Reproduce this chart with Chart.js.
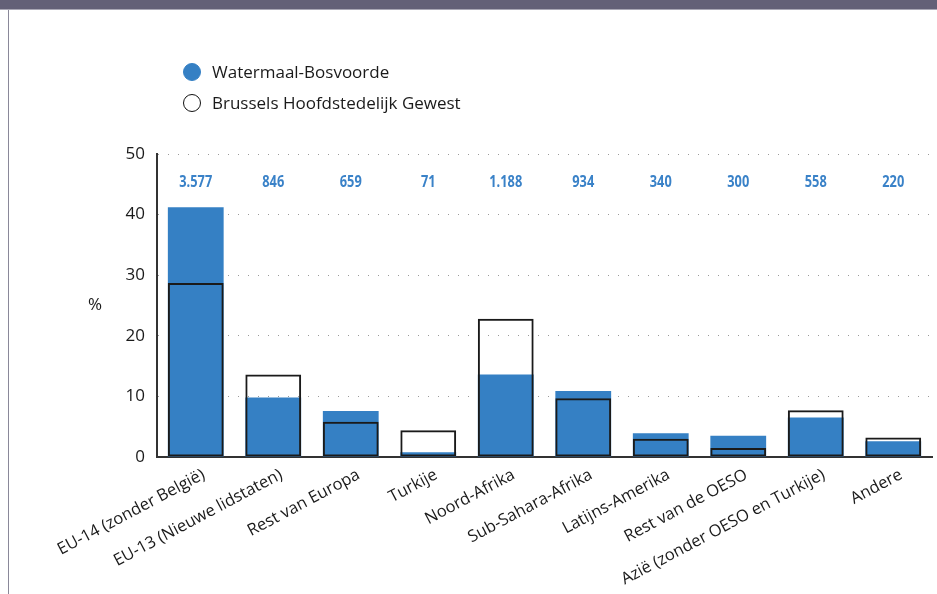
<!DOCTYPE html>
<html>
<head>
<meta charset="utf-8">
<script src="https://cdn.jsdelivr.net/npm/chart.js@4"></script>
<style>
  html, body { margin: 0; padding: 0; background: #fff; }
  #wrap { position: relative; width: 937px; height: 594px; overflow: hidden; font-family: "Open Sans", sans-serif; }
  #header { position: absolute; left: 0; top: 0; width: 937px; height: 9px; background: #636077; border-bottom: 1px solid #a9a7b5; }
  #leftline { position: absolute; left: 8px; top: 10px; width: 1px; height: 584px; background: #8a8899; }
  #chart { position: absolute; left: 0; top: 0; }
  .legend-item { position: absolute; left: 183px; font-size: 17px; color: #1a1a1a; white-space: nowrap; line-height: 20px; }
  .legend-item .dot { display: inline-block; width: 18px; height: 18px; border-radius: 50%; box-sizing: border-box; vertical-align: middle; margin-right: 11px; margin-top: -3px; }
</style>
</head>
<body>
<div id="wrap">
  <div id="header"></div>
  <div id="leftline"></div>
  <canvas id="chart" width="937" height="594"></canvas>
  <div id="legend"></div>
</div>
<script>
// categorieën en waarden (%)
const categories = [
  'EU-14 (zonder België)', 'EU-13 (Nieuwe lidstaten)', 'Rest van Europa', 'Turkije',
  'Noord-Afrika', 'Sub-Sahara-Afrika', 'Latijns-Amerika', 'Rest van de OESO',
  'Azië (zonder OESO en Turkije)', 'Andere'
];
const watermaal = [41.2, 9.8, 7.6, 0.8, 13.6, 10.9, 3.9, 3.5, 6.5, 2.6];
const brussel = [28.7, 13.6, 5.8, 4.4, 22.8, 9.7, 3.0, 1.5, 7.7, 3.2];
const aantallen = ['3.577', '846', '659', '71', '1.188', '934', '340', '300', '558', '220'];
const yTicks = [0, 10, 20, 30, 40, 50];

const blue = '#3580c4';

// legende
const legendItems = [
  { label: 'Watermaal-Bosvoorde', fill: blue, border: blue, top: 62 },
  { label: 'Brussels Hoofdstedelijk Gewest', fill: '#fff', border: '#111', top: 93 }
];
const legendEl = document.getElementById('legend');
legendItems.forEach(it => {
  const d = document.createElement('div');
  d.className = 'legend-item';
  d.style.top = it.top + 'px';
  d.innerHTML = '<span class="dot" style="background:' + it.fill + ';border:1.6px solid ' + it.border + '"></span>' + it.label;
  legendEl.appendChild(d);
});

// aantallen boven de staven + "%" label
const extraText = {
  id: 'extraText',
  afterDraw(chart) {
    const ctx = chart.ctx;
    const x = chart.scales.x;
    const area = chart.chartArea;
    ctx.save();
    ctx.fillStyle = '#3a82c8';
    ctx.font = 'bold 16px "Open Sans", sans-serif';
    ctx.textAlign = 'center';
    ctx.textBaseline = 'middle';
    aantallen.forEach((t, i) => {
      ctx.save();
      ctx.translate(x.getPixelForValue(i), area.top + 28);
      ctx.scale(0.8, 1); // condensed look
      ctx.fillText(t, 0, 0);
      ctx.restore();
    });
    ctx.fillStyle = '#1a1a1a';
    ctx.font = '17px "Open Sans", sans-serif';
    ctx.fillText('%', 95, (area.top + area.bottom) / 2);
    ctx.restore();
  }
};

new Chart(document.getElementById('chart'), {
  type: 'bar',
  plugins: [extraText],
  data: {
    labels: categories,
    datasets: [{
      label: 'Watermaal-Bosvoorde',
      data: watermaal,
      backgroundColor: blue,
      borderWidth: 0,
      grouped: false,
      order: 2,
      barPercentage: 0.72,
      categoryPercentage: 1
    }, {
      label: 'Brussels Hoofdstedelijk Gewest',
      data: brussel,
      backgroundColor: 'rgba(255,255,255,0)',
      borderColor: '#1a1a1a',
      borderWidth: 2,
      borderSkipped: false,
      grouped: false,
      order: 1,
      barPercentage: 0.72,
      categoryPercentage: 1
    }]
  },
  options: {
    responsive: false,
    animation: false,
    layout: { padding: { top: 154, right: 5, left: 0, bottom: 0 } },
    plugins: {
      legend: { display: false },
      tooltip: { enabled: false }
    },
    scales: {
      x: {
        grid: { display: false },
        border: { display: true, color: '#333', width: 2 },
        ticks: {
          autoSkip: false,
          minRotation: 28,
          maxRotation: 28,
          labelOffset: 8,
          padding: 0,
          color: '#1a1a1a',
          font: { family: '"Open Sans", sans-serif', size: 16.5 }
        },
        afterFit(scale) { scale.height = 137; }
      },
      y: {
        min: 0,
        max: 50,
        afterBuildTicks(scale) { scale.ticks = yTicks.map(v => ({ value: v })); },
        grid: { color: '#9a9a9a', lineWidth: 1, drawTicks: false },
        border: { display: true, color: '#333', width: 2, dash: [1, 9] },
        ticks: {
          padding: 12,
          color: '#1a1a1a',
          font: { family: '"Open Sans", sans-serif', size: 17 }
        },
        afterFit(scale) { scale.width = 157; }
      }
    }
  }
});
</script>
</body>
</html>
